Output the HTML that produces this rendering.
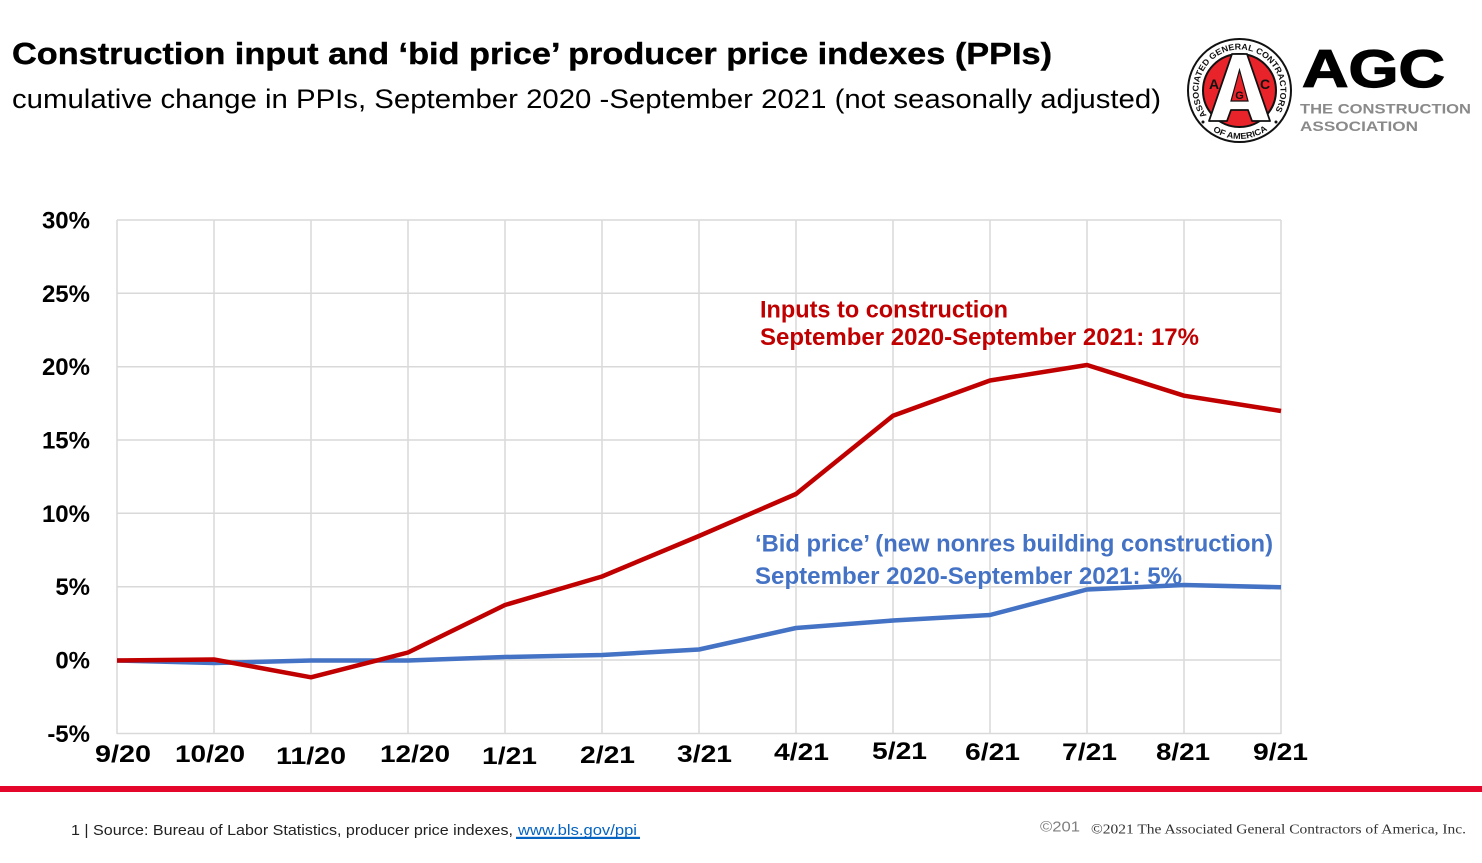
<!DOCTYPE html>
<html>
<head>
<meta charset="utf-8">
<style>
  html,body{margin:0;padding:0;background:#fff;}
  svg{display:block;}
</style>
</head>
<body>
<svg width="1482" height="863" viewBox="0 0 1482 863" xmlns="http://www.w3.org/2000/svg">
  <rect x="0" y="0" width="1482" height="863" fill="#ffffff"/>

  <!-- Title -->
  <text x="12" y="64" font-family="Liberation Sans, sans-serif" font-weight="bold" font-size="31" fill="#000" stroke="#000" stroke-width="0.4" textLength="1040" lengthAdjust="spacingAndGlyphs">Construction input and ‘bid price’ producer price indexes (PPIs)</text>
  <text x="12" y="108" font-family="Liberation Sans, sans-serif" font-size="27" fill="#000" textLength="1149" lengthAdjust="spacingAndGlyphs">cumulative change in PPIs, September 2020 -September 2021 (not seasonally adjusted)</text>

  <!-- Logo -->
  <g>
    <circle cx="1239.5" cy="90.5" r="51.5" fill="#fff" stroke="#111" stroke-width="2"/>
    <circle cx="1239.5" cy="90.5" r="36.5" fill="#e8232a" stroke="#111" stroke-width="2"/>
    <defs>
      <path id="topArc" d="M 1206.8 115.2 A 41 41 0 1 1 1275 111"/>
      <path id="botArc" d="M 1209.5 128.5 A 48.5 48.5 0 0 0 1269.5 128.5"/>
    </defs>
    <text font-family="Liberation Sans, sans-serif" font-weight="bold" font-size="8.5" fill="#111">
      <textPath href="#topArc" textLength="176" lengthAdjust="spacingAndGlyphs">ASSOCIATED GENERAL CONTRACTORS</textPath>
    </text>
    <text font-family="Liberation Sans, sans-serif" font-weight="bold" font-size="8.5" fill="#111">
      <textPath href="#botArc" textLength="58" lengthAdjust="spacingAndGlyphs" startOffset="4">OF AMERICA</textPath>
    </text>
    <circle cx="1203" cy="122" r="1.5" fill="#111"/>
    <circle cx="1276" cy="122" r="1.5" fill="#111"/>
    <!-- Big A -->
    <polygon points="1232,54 1247,54 1270,121 1252,121 1248,110 1231,110 1227,121 1209,121" fill="#fff" stroke="#111" stroke-width="1.8" stroke-linejoin="round"/>
    <polygon points="1239.5,70 1248,101 1231,101" fill="#e8232a" stroke="#111" stroke-width="1.2"/>
    <text x="1239.5" y="99" text-anchor="middle" font-family="Liberation Sans, sans-serif" font-weight="bold" font-size="11" fill="#111">G</text>
    <text x="1214" y="89" text-anchor="middle" font-family="Liberation Sans, sans-serif" font-weight="bold" font-size="14" fill="#111">A</text>
    <text x="1265" y="89" text-anchor="middle" font-family="Liberation Sans, sans-serif" font-weight="bold" font-size="14" fill="#111">C</text>
  </g>
  <text x="1302" y="87" font-family="Liberation Sans, sans-serif" font-weight="bold" font-size="53" fill="#000" stroke="#000" stroke-width="1.2" textLength="143" lengthAdjust="spacingAndGlyphs">AGC</text>
  <text x="1300" y="113.5" font-family="Liberation Sans, sans-serif" font-weight="bold" font-size="14" fill="#8a8a8a" textLength="171" lengthAdjust="spacingAndGlyphs">THE CONSTRUCTION</text>
  <text x="1300" y="131" font-family="Liberation Sans, sans-serif" font-weight="bold" font-size="14" fill="#8a8a8a" textLength="118" lengthAdjust="spacingAndGlyphs">ASSOCIATION</text>

  <!-- Grid -->
  <g stroke="#d9d9d9" stroke-width="1.5" fill="none">
    <line x1="117" y1="220" x2="1281" y2="220"/>
    <line x1="117" y1="293.3" x2="1281" y2="293.3"/>
    <line x1="117" y1="366.7" x2="1281" y2="366.7"/>
    <line x1="117" y1="440" x2="1281" y2="440"/>
    <line x1="117" y1="513.3" x2="1281" y2="513.3"/>
    <line x1="117" y1="586.7" x2="1281" y2="586.7"/>
    <line x1="117" y1="660" x2="1281" y2="660"/>
    <line x1="117" y1="733.5" x2="1281" y2="733.5"/>
    <line x1="117" y1="220" x2="117" y2="734"/>
    <line x1="214" y1="220" x2="214" y2="734"/>
    <line x1="311" y1="220" x2="311" y2="734"/>
    <line x1="408" y1="220" x2="408" y2="734"/>
    <line x1="505" y1="220" x2="505" y2="734"/>
    <line x1="602" y1="220" x2="602" y2="734"/>
    <line x1="699" y1="220" x2="699" y2="734"/>
    <line x1="796" y1="220" x2="796" y2="734"/>
    <line x1="893" y1="220" x2="893" y2="734"/>
    <line x1="990" y1="220" x2="990" y2="734"/>
    <line x1="1087" y1="220" x2="1087" y2="734"/>
    <line x1="1184" y1="220" x2="1184" y2="734"/>
    <line x1="1281" y1="220" x2="1281" y2="734"/>
  </g>

  <!-- Y labels -->
  <g font-family="Liberation Sans, sans-serif" font-weight="bold" font-size="24" fill="#000" text-anchor="end">
    <text x="90" y="228.5">30%</text>
    <text x="90" y="301.8">25%</text>
    <text x="90" y="375.2">20%</text>
    <text x="90" y="448.5">15%</text>
    <text x="90" y="521.8">10%</text>
    <text x="90" y="595.2">5%</text>
    <text x="90" y="668.5">0%</text>
    <text x="90" y="742">-5%</text>
  </g>

  <!-- X labels -->
  <g font-family="Liberation Sans, sans-serif" font-weight="bold" font-size="24" fill="#000">
    <text x="95" y="762" textLength="56" lengthAdjust="spacingAndGlyphs">9/20</text>
    <text x="175" y="762" textLength="70" lengthAdjust="spacingAndGlyphs">10/20</text>
    <text x="276" y="764" textLength="70" lengthAdjust="spacingAndGlyphs">11/20</text>
    <text x="380" y="762" textLength="70" lengthAdjust="spacingAndGlyphs">12/20</text>
    <text x="482" y="764" textLength="55" lengthAdjust="spacingAndGlyphs">1/21</text>
    <text x="580" y="763" textLength="55" lengthAdjust="spacingAndGlyphs">2/21</text>
    <text x="677" y="762" textLength="55" lengthAdjust="spacingAndGlyphs">3/21</text>
    <text x="774" y="760" textLength="55" lengthAdjust="spacingAndGlyphs">4/21</text>
    <text x="872" y="759" textLength="55" lengthAdjust="spacingAndGlyphs">5/21</text>
    <text x="965" y="760" textLength="55" lengthAdjust="spacingAndGlyphs">6/21</text>
    <text x="1062" y="760" textLength="55" lengthAdjust="spacingAndGlyphs">7/21</text>
    <text x="1156" y="760" textLength="54" lengthAdjust="spacingAndGlyphs">8/21</text>
    <text x="1253" y="760" textLength="55" lengthAdjust="spacingAndGlyphs">9/21</text>
  </g>

  <!-- Series -->
  <polyline fill="none" stroke="#4472c4" stroke-width="4.5" stroke-linejoin="round" stroke-linecap="butt"
    points="117,660.5 214,663 311,660.5 408,660.5 505,657 602,655 699,649.5 796,628 893,620.5 990,615 1087,589.5 1184,585 1281,587.3"/>
  <polyline fill="none" stroke="#c00000" stroke-width="4.5" stroke-linejoin="round" stroke-linecap="butt"
    points="117,660.5 214,659.5 311,677.3 408,652.5 505,605 602,576.5 699,536 796,494 893,415.7 990,380.5 1087,365 1184,395.7 1281,411"/>

  <!-- Annotations -->
  <g font-family="Liberation Sans, sans-serif" font-weight="bold" font-size="24">
    <text x="760" y="317.5" fill="#c00000" textLength="248" lengthAdjust="spacingAndGlyphs">Inputs to construction</text>
    <text x="760" y="345" fill="#c00000" textLength="439" lengthAdjust="spacingAndGlyphs">September 2020-September 2021: 17%</text>
    <text x="755" y="551.5" fill="#4472c4" textLength="518" lengthAdjust="spacingAndGlyphs">‘Bid price’ (new nonres building  construction)</text>
    <text x="755" y="584" fill="#4472c4" textLength="427" lengthAdjust="spacingAndGlyphs">September 2020-September 2021: 5%</text>
  </g>

  <!-- Footer bar -->
  <rect x="0" y="786" width="1482" height="6" fill="#e4062b"/>

  <!-- Footer text -->
  <text x="71" y="835" font-family="Liberation Sans Narrow, Liberation Sans, sans-serif" font-size="15" fill="#222" textLength="442" lengthAdjust="spacingAndGlyphs">1 | Source: Bureau of Labor Statistics, producer price indexes,</text>
  <text x="518" y="835" font-family="Liberation Sans Narrow, Liberation Sans, sans-serif" font-size="15" fill="#0563c1" textLength="119" lengthAdjust="spacingAndGlyphs">www.bls.gov/ppi</text>
  <rect x="516" y="836.8" width="124" height="2.2" fill="#0563c1"/>
  <text x="1040" y="831.5" font-family="Liberation Sans Narrow, Liberation Sans, sans-serif" font-size="15" fill="#7f7f7f" textLength="40" lengthAdjust="spacingAndGlyphs">©201</text>
  <text x="1091" y="833.5" font-family="Liberation Serif, serif" font-size="14" fill="#333" textLength="375" lengthAdjust="spacingAndGlyphs">©2021 The Associated General Contractors of America, Inc.</text>
</svg>
</body>
</html>
